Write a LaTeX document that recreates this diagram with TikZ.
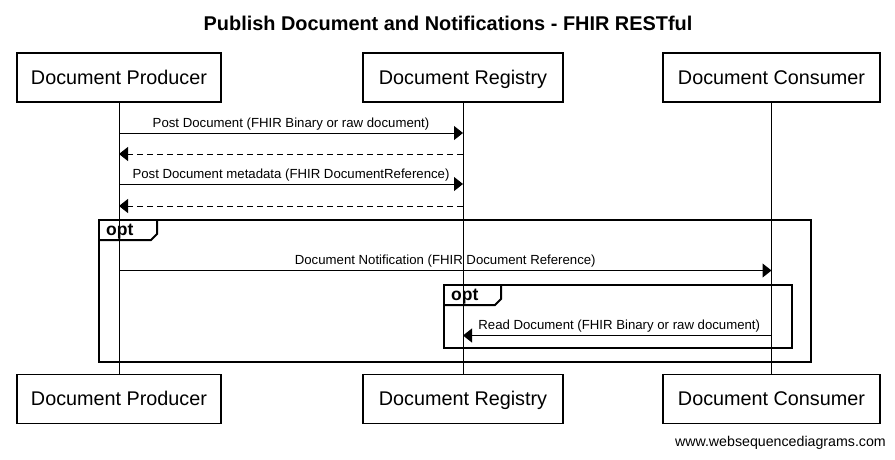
\documentclass[tikz,border=0pt]{standalone}
\usepackage{fontspec}
\setmainfont{Liberation Sans}
\usetikzlibrary{arrows.meta}
\begin{document}
\begin{tikzpicture}[x=1pt,y=-1pt,
  actor/.style={draw=black,line width=1.1pt,minimum width=#1,minimum height=49pt,inner sep=0pt,text height=17pt,text depth=4pt,font=\fontsize{19.8}{22}\selectfont},
  lifeline/.style={line width=1pt},
  msg/.style={line width=1pt,-{Triangle[length=9pt,width=14pt]}},
  reply/.style={msg,dash pattern=on 6pt off 4pt},
  lbl/.style={font=\fontsize{13.2}{15}\selectfont,inner sep=0pt,anchor=south},
  frame/.style={line width=2pt},
  optlbl/.style={font=\fontsize{17.5}{19}\selectfont\bfseries,inner sep=0pt,anchor=base west}
]
\useasboundingbox (0,0) rectangle (895,459);

\node[font=\fontsize{19.9}{22}\selectfont\bfseries] (title) at (448,23) {Publish Document and Notifications - FHIR RESTful};

% top actors
\node[actor=204pt] (pt) at (119,77.5) {Document Producer};
\node[actor=200pt] (rt) at (463,77.5) {Document Registry};
\node[actor=217pt] (ct) at (771.5,77.5) {Document Consumer};
% bottom actors
\node[actor=204pt] (pb) at (119,399) {Document Producer};
\node[actor=200pt] (rb) at (463,399) {Document Registry};
\node[actor=217pt] (cb) at (771.5,399) {Document Consumer};

% lifelines
\draw[lifeline] (pt.south) -- (pb.north);
\draw[lifeline] (rt.south) -- (rb.north);
\draw[lifeline] (ct.south) -- (cb.north);

% message coordinates
\coordinate (p1) at (119,133); \coordinate (r1) at (463,133);
\coordinate (p2) at (119,154); \coordinate (r2) at (463,154);
\coordinate (p3) at (119,184); \coordinate (r3) at (463,184);
\coordinate (p4) at (119,206); \coordinate (r4) at (463,206);
\coordinate (p5) at (119,270.5); \coordinate (c5) at (771.5,270.5);
\coordinate (r6) at (463,335.5); \coordinate (c6) at (771.5,335.5);

\draw[msg] (p1) -- node[lbl,above=2.5pt] (m1) {Post Document (FHIR Binary or raw document)} (r1);
\draw[reply] (r2) -- (p2);
\draw[msg] (p3) -- node[lbl,above=2.5pt] (m3) {Post Document metadata (FHIR DocumentReference)} (r3);
\draw[reply] (r4) -- (p4);

% outer opt frame
\draw[frame] (99,219.5) rectangle (810.5,361.5);
\draw[frame] (99,240) -- (151,240) -- (157,234) -- (157,219.5);
\node[optlbl] (opt1) at (106,235) {opt};

\draw[msg] (p5) -- node[lbl,above=2.5pt] (m5) {Document Notification (FHIR Document Reference)} (c5);

% inner opt frame
\draw[frame] (444,284.5) rectangle (791.5,348);
\draw[frame] (444,305) -- (495,305) -- (501,299) -- (501,284.5);
\node[optlbl] (opt2) at (451,300) {opt};

\draw[msg] (c6) -- node[lbl,above=2.5pt,xshift=2pt] (m6) {Read Document (FHIR Binary or raw document)} (r6);

\node[font=\fontsize{14.2}{16}\selectfont,anchor=east,inner sep=0pt] (wm) at (886,443) {www.websequencediagrams.com};
\end{tikzpicture}
\end{document}
